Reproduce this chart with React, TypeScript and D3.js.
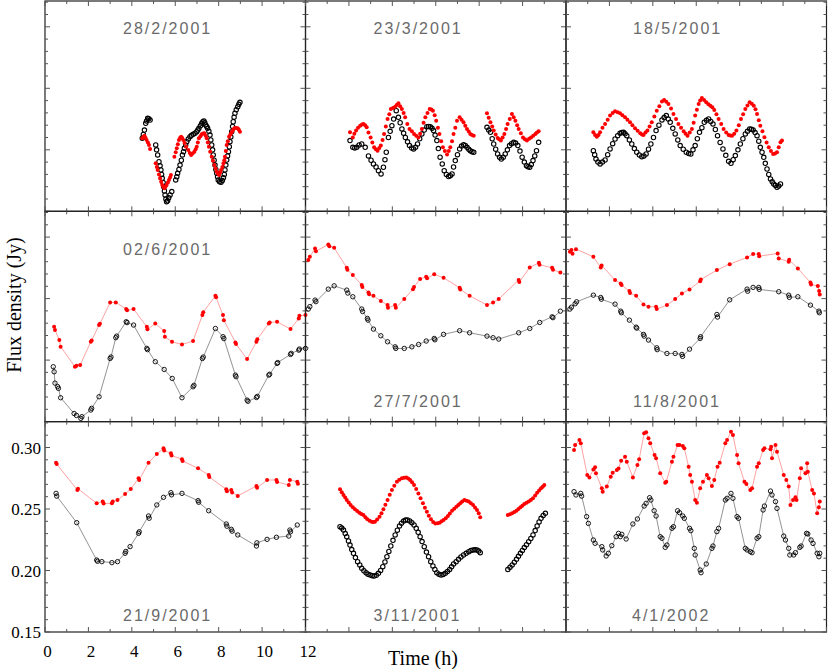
import React from 'react';
import * as d3 from 'd3';

type P = [number, number];

// ---- 28/2/2001 ----
const feb28Black: P[] = [[4.48,0.2093],[4.53,0.2125],[4.58,0.216],[4.64,0.2215],[4.68,0.2235],[4.73,0.2256],[4.78,0.2252],[4.84,0.2242],
  [5.1,0.204],[5.14,0.2],[5.19,0.1958],[5.25,0.1903],[5.3,0.187],[5.34,0.1836],[5.37,0.18],[5.4,0.1768],[5.44,0.1735],[5.47,0.17],[5.5,0.1665],[5.53,0.1633],[5.57,0.16],[5.6,0.1578],[5.65,0.1585],[5.7,0.161],[5.76,0.1633],[5.84,0.166],
  [6.02,0.1755],[6.07,0.178],[6.11,0.1809],[6.17,0.184],[6.22,0.1876],[6.28,0.1915],[6.33,0.1958],[6.38,0.1985],[6.42,0.2012],[6.48,0.204],[6.53,0.2066],[6.6,0.2088],[6.68,0.2107],[6.75,0.2118],[6.83,0.2126],[6.91,0.2135],[6.99,0.2147],[7.04,0.216],[7.09,0.2175],[7.16,0.2195],[7.22,0.2215],[7.27,0.2228],[7.32,0.2234],[7.36,0.222],[7.4,0.2202],[7.45,0.219],[7.49,0.2175],[7.55,0.215],[7.6,0.212],[7.64,0.208],[7.68,0.2039],[7.72,0.2],[7.75,0.1958],[7.79,0.1915],[7.83,0.1876],[7.87,0.184],[7.91,0.1809],[7.95,0.178],[7.98,0.1754],[8.04,0.174],[8.11,0.1736],[8.17,0.175],[8.22,0.1773],[8.26,0.18],[8.29,0.1836],[8.33,0.1876],[8.37,0.1917],[8.41,0.195],[8.45,0.1985],[8.49,0.2025],[8.52,0.2066],[8.56,0.2105],[8.6,0.2147],[8.64,0.219],[8.67,0.2228],[8.71,0.2265],[8.75,0.2297],[8.81,0.2325],[8.88,0.235],[8.93,0.237],[8.98,0.2386]];
const feb28Red: P[] = [[4.48,0.2093],[4.53,0.2105],[4.58,0.2115],[4.63,0.2098],[4.68,0.208],[4.74,0.206],[4.79,0.2039],[4.84,0.2007],
  [5.1,0.189],[5.15,0.186],[5.19,0.1836],[5.25,0.18],[5.3,0.1768],[5.35,0.174],[5.4,0.1714],[5.45,0.17],[5.5,0.1687],[5.55,0.17],[5.6,0.1714],[5.66,0.1735],[5.71,0.1754],[5.76,0.1775],[5.8,0.1795],
  [5.96,0.1944],[6.02,0.198],[6.07,0.2012],[6.12,0.2045],[6.17,0.208],[6.22,0.2095],[6.27,0.2107],[6.32,0.2095],[6.37,0.208],[6.43,0.2055],[6.5,0.2025],[6.6,0.1998],[6.67,0.1975],[6.73,0.1958],[6.8,0.197],[6.88,0.1985],[6.94,0.2005],[6.99,0.2025],[7.04,0.206],[7.09,0.2093],[7.16,0.211],[7.22,0.2126],[7.28,0.2132],[7.34,0.2134],[7.4,0.2115],[7.45,0.2093],[7.5,0.206],[7.55,0.2025],[7.61,0.1985],[7.68,0.1944],[7.74,0.191],[7.8,0.1876],[7.86,0.1848],[7.91,0.1822],[7.97,0.1805],[8.02,0.1795],[8.07,0.1815],[8.11,0.1836],[8.17,0.186],[8.22,0.189],[8.26,0.1915],[8.29,0.1944],[8.33,0.199],[8.37,0.2039],[8.42,0.207],[8.48,0.2107],[8.54,0.2125],[8.6,0.2142],[8.66,0.216],[8.72,0.2175],[8.8,0.2178],[8.88,0.2175],[8.93,0.2162],[8.98,0.2147]];

// ---- 23/3/2001 ----
const mar23Black: P[] = [[2.05,0.2075],[2.18,0.202],[2.27,0.2015],[2.36,0.202],[2.47,0.204],[2.59,0.2047],[2.75,0.202],[2.9,0.195],[3.02,0.1915],[3.13,0.1885],[3.25,0.186],[3.36,0.183],[3.48,0.1804],[3.59,0.1858],[3.66,0.192],[3.72,0.198],[3.82,0.21],[3.9,0.215],[3.98,0.2196],[4.06,0.225],[4.18,0.2318],[4.28,0.2264],[4.36,0.222],[4.44,0.217],[4.52,0.2135],[4.6,0.21],[4.7,0.2065],[4.79,0.2034],[4.89,0.2015],[4.98,0.2007],[5.07,0.202],[5.16,0.2047],[5.26,0.209],[5.36,0.2129],[5.47,0.216],[5.59,0.2188],[5.67,0.219],[5.75,0.2188],[5.83,0.2175],[5.9,0.2156],[5.97,0.212],[6.05,0.2075],[6.12,0.201],[6.2,0.194],[6.3,0.1885],[6.39,0.183],[6.49,0.18],[6.59,0.1782],[6.67,0.179],[6.75,0.1804],[6.82,0.186],[6.9,0.1912],[7.0,0.196],[7.1,0.2007],[7.19,0.203],[7.28,0.2042],[7.36,0.2035],[7.44,0.202],[7.52,0.2005],[7.59,0.1993],[7.67,0.1985],[7.75,0.198],
  [8.36,0.2183],[8.44,0.216],[8.52,0.2142],[8.6,0.209],[8.67,0.2047],[8.76,0.2005],[8.85,0.1966],[8.94,0.194],[9.02,0.1925],[9.11,0.194],[9.2,0.1966],[9.3,0.2],[9.4,0.2034],[9.49,0.205],[9.59,0.2061],[9.68,0.2055],[9.78,0.2034],[9.88,0.199],[9.98,0.194],[10.08,0.19],[10.18,0.1871],[10.25,0.1862],[10.33,0.1858],[10.4,0.188],[10.48,0.1912],[10.56,0.195],[10.64,0.1993],[10.74,0.2061]];
const mar23Red: P[] = [[2.05,0.2142],[2.18,0.21],[2.25,0.213],[2.33,0.2156],[2.42,0.218],[2.52,0.2196],[2.6,0.2205],[2.67,0.221],[2.75,0.22],[2.82,0.2183],[2.9,0.214],[3.0,0.21],[3.08,0.206],[3.16,0.202],[3.24,0.2005],[3.32,0.1993],[3.4,0.2015],[3.47,0.2034],[3.55,0.208],[3.62,0.2129],[3.7,0.219],[3.78,0.225],[3.86,0.229],[3.93,0.2332],[4.03,0.234],[4.13,0.2351],[4.2,0.2365],[4.28,0.2378],[4.36,0.2355],[4.44,0.2332],[4.52,0.23],[4.59,0.2264],[4.69,0.221],[4.79,0.2169],[4.9,0.215],[5.0,0.2129],[5.1,0.2115],[5.2,0.21],[5.28,0.213],[5.36,0.2169],[5.44,0.222],[5.52,0.2264],[5.62,0.23],[5.72,0.2332],[5.8,0.2328],[5.87,0.2318],[5.95,0.228],[6.02,0.2237],[6.1,0.218],[6.17,0.2129],[6.25,0.207],[6.33,0.202],[6.42,0.199],[6.52,0.1961],[6.6,0.199],[6.67,0.202],[6.75,0.207],[6.82,0.2129],[6.9,0.218],[6.98,0.2237],[7.1,0.2264],[7.19,0.2245],[7.28,0.2224],[7.36,0.2195],[7.44,0.2169],[7.52,0.2148],[7.59,0.2129],[7.67,0.212],[7.75,0.2115],
  [8.36,0.2297],[8.44,0.226],[8.52,0.2224],[8.6,0.219],[8.67,0.2156],[8.76,0.2125],[8.85,0.2096],[8.92,0.2085],[9.0,0.2075],[9.08,0.21],[9.16,0.2129],[9.24,0.217],[9.31,0.221],[9.41,0.225],[9.51,0.2291],[9.59,0.2265],[9.67,0.2237],[9.75,0.22],[9.82,0.2169],[9.92,0.2135],[10.02,0.21],[10.11,0.2085],[10.2,0.2075],[10.3,0.209],[10.39,0.21],[10.49,0.2115],[10.59,0.2129],[10.66,0.214],[10.74,0.215]];

// ---- 18/5/2001 ----
const may18Black: P[] = [[1.26,0.1993],[1.32,0.196],[1.38,0.1925],[1.47,0.19],[1.57,0.1885],[1.68,0.19],[1.8,0.1917],[1.92,0.196],[2.03,0.2007],[2.15,0.205],[2.26,0.2088],[2.38,0.2115],[2.49,0.2134],[2.57,0.214],[2.65,0.2142],[2.72,0.213],[2.8,0.2115],[2.92,0.208],[3.03,0.2047],[3.15,0.201],[3.26,0.198],[3.38,0.1958],[3.49,0.1944],[3.59,0.195],[3.69,0.1966],[3.8,0.2005],[3.91,0.2047],[4.03,0.21],[4.15,0.2156],[4.28,0.22],[4.42,0.2243],[4.52,0.2262],[4.62,0.2278],[4.71,0.225],[4.8,0.2224],[4.92,0.2175],[5.03,0.2129],[5.15,0.208],[5.26,0.2034],[5.4,0.2005],[5.54,0.198],[5.65,0.197],[5.75,0.1966],[5.85,0.2],[5.95,0.2034],[6.05,0.209],[6.15,0.2142],[6.26,0.218],[6.37,0.2224],[6.47,0.224],[6.57,0.2251],[6.67,0.223],[6.77,0.221],[6.88,0.2165],[6.98,0.2115],[7.1,0.206],[7.23,0.2007],[7.36,0.1955],[7.49,0.1906],[7.6,0.189],[7.7,0.192],[7.8,0.1953],[7.92,0.2],[8.03,0.2047],[8.15,0.209],[8.26,0.2129],[8.36,0.215],[8.46,0.2169],[8.54,0.2168],[8.62,0.2161],[8.71,0.214],[8.8,0.2115],[8.88,0.207],[8.95,0.202],[9.03,0.198],[9.11,0.1939],[9.18,0.189],[9.26,0.1844],[9.34,0.18],[9.42,0.1763],[9.5,0.174],[9.57,0.1722],[9.65,0.171],[9.72,0.1695],[9.8,0.1705],[9.88,0.1722]];
const may18Red: P[] = [[1.26,0.2142],[1.34,0.212],[1.42,0.2107],[1.5,0.212],[1.57,0.2142],[1.68,0.218],[1.8,0.221],[1.92,0.2245],[2.03,0.2278],[2.15,0.23],[2.26,0.2313],[2.38,0.2305],[2.49,0.2297],[2.6,0.228],[2.72,0.2264],[2.83,0.2245],[2.95,0.2224],[3.06,0.22],[3.18,0.2175],[3.3,0.2155],[3.42,0.2134],[3.5,0.2125],[3.57,0.2121],[3.66,0.214],[3.75,0.2156],[3.85,0.219],[3.95,0.2224],[4.07,0.227],[4.18,0.2318],[4.3,0.2355],[4.42,0.2392],[4.52,0.2405],[4.62,0.239],[4.72,0.2373],[4.84,0.2335],[4.95,0.2291],[5.07,0.225],[5.18,0.221],[5.3,0.218],[5.42,0.215],[5.51,0.213],[5.6,0.2115],[5.7,0.214],[5.8,0.2169],[5.88,0.222],[5.95,0.2278],[6.03,0.2325],[6.11,0.2373],[6.18,0.24],[6.26,0.2421],[6.36,0.2405],[6.46,0.2386],[6.56,0.237],[6.65,0.2359],[6.74,0.2345],[6.83,0.2324],[6.93,0.229],[7.03,0.2251],[7.15,0.221],[7.26,0.2169],[7.38,0.214],[7.49,0.2121],[7.57,0.2117],[7.65,0.2115],[7.75,0.213],[7.85,0.2156],[7.96,0.22],[8.06,0.2251],[8.16,0.229],[8.26,0.2332],[8.36,0.236],[8.46,0.2386],[8.56,0.2375],[8.65,0.2359],[8.73,0.233],[8.8,0.2291],[8.88,0.224],[8.95,0.2196],[9.05,0.215],[9.14,0.2102],[9.24,0.206],[9.34,0.202],[9.44,0.199],[9.54,0.1966],[9.63,0.197],[9.72,0.198],[9.8,0.202],[9.88,0.2061],[9.95,0.2075]];

// ---- 02/6/2001 ----
const jun02Black: P[] = [[0.38,0.1946],[0.42,0.1905],[0.46,0.1813],[0.58,0.1785],[0.62,0.177],[0.72,0.1694],[1.34,0.1566],[1.45,0.155],[1.65,0.1526],[1.7,0.154],[2.11,0.1594],[2.15,0.1608],[2.49,0.1702],[3.0,0.2013],[3.04,0.2025],[3.26,0.2182],[3.3,0.2195],[3.74,0.2312],[3.78,0.2305],[4.08,0.2285],[4.69,0.2095],[4.72,0.2085],[5.08,0.1987],[5.49,0.1924],[5.86,0.1851],[6.31,0.1694],[6.82,0.1783],[6.86,0.1795],[7.25,0.2013],[7.29,0.2025],[7.85,0.2257],[8.2,0.219],[8.24,0.2175],[8.77,0.1878],[8.8,0.1865],[9.31,0.1675],[9.35,0.1665],[9.74,0.1696],[9.78,0.1705],[10.31,0.1878],[10.35,0.1885],[10.69,0.1973],[10.72,0.198],[11.31,0.2046],[11.34,0.2055],[11.69,0.2081],[11.72,0.209],[12.0,0.2095]];
const jun02Red: P[] = [[0.42,0.2271],[0.46,0.2245],[0.66,0.2163],[0.72,0.2109],[1.38,0.1946],[1.45,0.1955],[1.62,0.196],[2.11,0.2149],[2.15,0.216],[2.49,0.2285],[2.53,0.2295],[3.0,0.2469],[3.26,0.2469],[3.74,0.2415],[3.78,0.2405],[4.08,0.2415],[4.69,0.2271],[4.72,0.225],[5.08,0.2298],[5.49,0.2236],[5.52,0.219],[5.85,0.2149],[6.31,0.2127],[6.82,0.2155],[7.25,0.2366],[7.29,0.239],[7.85,0.2523],[7.88,0.251],[8.2,0.2366],[8.24,0.2325],[8.77,0.2144],[8.8,0.213],[9.31,0.2008],[9.74,0.2149],[9.78,0.217],[10.31,0.2298],[10.35,0.2305],[10.69,0.2312],[11.31,0.2252],[11.69,0.2339],[11.72,0.236],[12.0,0.2366]];

// ---- 27/7/2001 ----
const jul27Black: P[] = [[0.13,0.2415],[0.2,0.2435],[0.44,0.2488],[0.48,0.2475],[1.05,0.2577],[1.32,0.2604],[1.9,0.2569],[1.95,0.2545],[2.18,0.2515],[2.59,0.2415],[2.63,0.2395],[2.85,0.2339],[2.88,0.2325],[3.13,0.2252],[3.47,0.2198],[3.78,0.2149],[4.13,0.2108],[4.16,0.2095],[4.55,0.2095],[4.9,0.2108],[5.21,0.2127],[5.56,0.2155],[5.93,0.2176],[5.96,0.2165],[6.36,0.2209],[7.1,0.2239],[7.56,0.2222],[8.36,0.2195],[8.64,0.2182],[8.9,0.2171],[9.82,0.2222],[10.33,0.2257],[10.79,0.2306],[11.36,0.2352],[11.4,0.2345],[11.74,0.2398]];
const jul27Red: P[] = [[0.13,0.2813],[0.2,0.284],[0.44,0.2908],[0.48,0.2885],[1.05,0.294],[1.1,0.2925],[1.32,0.2913],[1.9,0.2751],[1.93,0.2735],[2.18,0.2691],[2.59,0.261],[2.62,0.2595],[2.9,0.255],[2.93,0.2535],[3.13,0.2523],[3.47,0.248],[3.78,0.2447],[3.8,0.2425],[4.13,0.2447],[4.16,0.2425],[4.55,0.2496],[4.95,0.2577],[5.0,0.2595],[5.28,0.2659],[5.56,0.2678],[5.6,0.2665],[5.93,0.2697],[6.36,0.2669],[7.1,0.2588],[7.13,0.2575],[7.56,0.2523],[8.36,0.2447],[8.64,0.2469],[8.9,0.2496],[9.82,0.2651],[9.85,0.2635],[10.33,0.2753],[10.75,0.2791],[10.78,0.2775],[11.36,0.2751],[11.4,0.2735],[11.74,0.2713]];

// ---- 11/8/2001 ----
const aug11Black: P[] = [[0.18,0.2415],[0.25,0.243],[0.42,0.2458],[0.49,0.2474],[1.26,0.2528],[1.6,0.2509],[1.63,0.2495],[2.26,0.2455],[2.52,0.2398],[2.55,0.2385],[2.92,0.2325],[3.23,0.2268],[3.26,0.226],[3.57,0.2209],[3.6,0.2195],[3.8,0.2163],[4.18,0.21],[4.2,0.2085],[4.65,0.2054],[5.03,0.2054],[5.34,0.2046],[5.37,0.203],[5.69,0.2089],[6.18,0.2176],[6.2,0.219],[6.95,0.2371],[6.98,0.235],[7.54,0.249],[8.34,0.2577],[8.37,0.256],[8.62,0.2591],[8.88,0.2591],[8.9,0.2575],[9.8,0.2556],[10.26,0.2528],[10.29,0.251],[10.68,0.2515],[11.26,0.2447],[11.65,0.2398],[11.67,0.2385]];
const aug11Red: P[] = [[0.18,0.2881],[0.25,0.2895],[0.3,0.2865],[0.46,0.2902],[1.26,0.284],[1.6,0.2753],[1.64,0.277],[2.26,0.2651],[2.52,0.2623],[2.56,0.261],[2.92,0.2561],[2.95,0.2545],[3.23,0.2523],[3.57,0.2453],[3.8,0.2434],[4.15,0.2434],[4.18,0.2415],[4.65,0.2447],[5.03,0.2496],[5.34,0.2542],[5.69,0.2575],[6.18,0.2642],[6.21,0.2655],[6.95,0.2732],[7.54,0.278],[8.34,0.2835],[8.62,0.2862],[8.88,0.2862],[8.9,0.2845],[9.75,0.2867],[9.8,0.2827],[10.26,0.28],[10.28,0.2815],[10.68,0.2745],[11.26,0.2631],[11.29,0.2615],[11.6,0.2602],[11.66,0.2561],[11.69,0.2534]];

// ---- 21/9/2001 ----
const sep21Black: P[] = [[0.51,0.2627],[0.54,0.2605],[1.46,0.2389],[2.38,0.2085],[2.42,0.2075],[2.62,0.2072],[3.08,0.2064],[3.34,0.2072],[3.69,0.214],[3.72,0.2155],[3.92,0.2194],[4.31,0.2302],[4.34,0.2315],[4.77,0.2443],[4.8,0.2425],[5.15,0.2533],[5.46,0.2595],[5.8,0.2633],[5.83,0.2615],[6.31,0.2627],[7.05,0.2568],[7.08,0.2555],[7.54,0.2486],[8.35,0.2378],[8.38,0.236],[8.58,0.2335],[8.62,0.232],[8.88,0.2289],[9.74,0.2199],[9.76,0.2225],[10.23,0.2253],[10.66,0.227],[11.23,0.228],[11.28,0.2329],[11.31,0.2315],[11.62,0.237]];
const sep21Red: P[] = [[0.51,0.2877],[0.54,0.2865],[1.49,0.2654],[1.52,0.2665],[2.38,0.2546],[2.66,0.256],[2.7,0.2545],[3.08,0.2546],[3.12,0.256],[3.34,0.2573],[3.69,0.2622],[3.95,0.2663],[4.31,0.2749],[4.34,0.2735],[4.77,0.2877],[5.15,0.2947],[5.46,0.2993],[5.49,0.2975],[5.8,0.2953],[5.83,0.2935],[6.31,0.2904],[6.34,0.289],[7.05,0.2831],[7.54,0.2776],[7.57,0.276],[8.35,0.266],[8.38,0.2645],[8.58,0.2654],[8.62,0.2635],[8.88,0.2606],[9.74,0.2687],[9.77,0.2672],[10.23,0.2736],[10.66,0.2736],[10.69,0.272],[11.23,0.2695],[11.28,0.2736],[11.62,0.2722],[11.65,0.2705]];

// ---- 3/11/2001 ----
const nov03Black: P[] = [[1.59,0.2356],[1.67,0.2345],[1.75,0.2329],[1.83,0.23],[1.9,0.2275],[1.98,0.224],[2.05,0.2207],[2.13,0.217],[2.21,0.214],[2.3,0.2105],[2.4,0.2072],[2.5,0.2045],[2.59,0.2018],[2.69,0.1998],[2.79,0.1982],[2.88,0.197],[2.98,0.1963],[3.07,0.1958],[3.16,0.1955],[3.26,0.1962],[3.36,0.1977],[3.46,0.2],[3.56,0.2031],[3.66,0.207],[3.75,0.2112],[3.84,0.2155],[3.93,0.2199],[4.03,0.2245],[4.13,0.2289],[4.23,0.2328],[4.33,0.2362],[4.42,0.2385],[4.52,0.2402],[4.61,0.241],[4.7,0.2411],[4.8,0.2403],[4.9,0.2389],[5.0,0.237],[5.1,0.2343],[5.19,0.231],[5.28,0.2275],[5.37,0.2235],[5.47,0.2194],[5.57,0.215],[5.67,0.2112],[5.77,0.2072],[5.87,0.2037],[5.96,0.2008],[6.05,0.1982],[6.15,0.197],[6.24,0.1963],[6.34,0.1968],[6.44,0.1977],[6.54,0.1992],[6.64,0.2009],[6.73,0.203],[6.82,0.2053],[6.94,0.2072],[7.05,0.2091],[7.16,0.211],[7.28,0.2126],[7.4,0.214],[7.52,0.2153],[7.62,0.2162],[7.72,0.2167],[7.81,0.2168],[7.9,0.2167],[7.98,0.2158],[8.05,0.2145],
  [9.32,0.2009],[9.42,0.2027],[9.52,0.2045],[9.62,0.2068],[9.72,0.2091],[9.81,0.2115],[9.9,0.214],[9.99,0.2163],[10.08,0.2186],[10.18,0.221],[10.28,0.2234],[10.38,0.226],[10.48,0.2289],[10.58,0.2325],[10.67,0.2362],[10.76,0.2395],[10.85,0.2424],[10.95,0.2447],[11.05,0.2465]];
const nov03Red: P[] = [[1.59,0.266],[1.67,0.2637],[1.75,0.2614],[1.83,0.2593],[1.9,0.2573],[1.99,0.2553],[2.08,0.2533],[2.18,0.2515],[2.28,0.2497],[2.38,0.2483],[2.48,0.247],[2.57,0.246],[2.67,0.2451],[2.76,0.2433],[2.85,0.2416],[2.95,0.2405],[3.05,0.2397],[3.12,0.2395],[3.2,0.2397],[3.3,0.2415],[3.41,0.2438],[3.5,0.2465],[3.59,0.2497],[3.68,0.2535],[3.78,0.2573],[3.88,0.2615],[3.98,0.2654],[4.09,0.269],[4.21,0.2722],[4.32,0.2738],[4.44,0.2749],[4.54,0.2755],[4.64,0.2757],[4.73,0.2748],[4.82,0.2736],[4.91,0.2718],[5.0,0.2695],[5.1,0.2662],[5.2,0.2627],[5.3,0.2587],[5.41,0.2546],[5.5,0.251],[5.59,0.2478],[5.68,0.2445],[5.78,0.2416],[5.88,0.2395],[5.98,0.2383],[6.08,0.2385],[6.18,0.2389],[6.27,0.24],[6.36,0.2411],[6.46,0.2425],[6.56,0.2443],[6.65,0.2463],[6.75,0.2486],[6.85,0.2503],[6.95,0.2519],[7.04,0.2532],[7.13,0.2546],[7.22,0.256],[7.32,0.2573],[7.42,0.2567],[7.52,0.256],[7.62,0.2547],[7.72,0.2533],[7.81,0.2512],[7.9,0.2492],[7.98,0.2465],[8.05,0.2432],
  [9.32,0.2451],[9.42,0.2458],[9.52,0.2465],[9.62,0.2475],[9.72,0.2486],[9.81,0.25],[9.9,0.2514],[9.99,0.2527],[10.08,0.2541],[10.18,0.255],[10.28,0.256],[10.38,0.2573],[10.48,0.2587],[10.58,0.261],[10.67,0.2633],[10.76,0.265],[10.85,0.2668],[10.93,0.268],[11.0,0.2695]];

// ---- 4/1/2002 ----
const jan04Black: P[] = [[0.37,0.2641],[0.46,0.2614],[0.68,0.2627],[0.72,0.2605],[0.95,0.2438],[1.03,0.2383],[1.26,0.2248],[1.34,0.2221],[1.65,0.2194],[1.69,0.2167],[1.85,0.2118],[1.95,0.214],[2.11,0.2202],[2.31,0.2275],[2.42,0.2302],[2.5,0.2275],[2.57,0.2294],[2.77,0.2256],[3.08,0.2378],[3.29,0.2419],[3.6,0.2524],[3.69,0.2546],[3.85,0.2592],[3.91,0.2573],[4.06,0.2486],[4.15,0.2443],[4.34,0.2275],[4.42,0.2262],[4.57,0.2188],[4.65,0.2207],[4.88,0.2343],[4.95,0.2356],[5.14,0.2486],[5.23,0.247],[5.38,0.2443],[5.45,0.2424],[5.69,0.2343],[5.75,0.2324],[5.91,0.218],[5.95,0.2126],[6.18,0.2004],[6.22,0.1982],[6.46,0.2053],[6.72,0.218],[6.77,0.2199],[6.95,0.2316],[7.03,0.2343],[7.34,0.2573],[7.42,0.2587],[7.6,0.2627],[7.69,0.2587],[7.88,0.2438],[7.95,0.2424],[8.26,0.218],[8.34,0.2167],[8.49,0.2153],[8.57,0.2145],[8.8,0.2262],[8.88,0.2275],[9.08,0.2492],[9.14,0.2524],[9.42,0.2646],[9.49,0.2614],[9.65,0.256],[9.72,0.2505],[10.03,0.228],[10.11,0.2248],[10.26,0.218],[10.31,0.2126],[10.49,0.2126],[10.57,0.2145],[10.77,0.2188],[10.83,0.2199],[11.08,0.2302],[11.14,0.2297],[11.29,0.2248],[11.38,0.222],[11.57,0.214],[11.65,0.2112],[11.69,0.214]];
const jan04Red: P[] = [[0.37,0.298],[0.42,0.302],[0.62,0.3061],[0.68,0.3034],[0.98,0.2776],[1.08,0.2757],[1.26,0.2822],[1.34,0.2839],[1.38,0.279],[1.65,0.2668],[1.69,0.2641],[1.88,0.2682],[2.06,0.2763],[2.15,0.2795],[2.34,0.2817],[2.42,0.283],[2.54,0.2893],[2.72,0.2925],[2.8,0.2885],[3.08,0.2757],[3.29,0.2858],[3.37,0.2904],[3.6,0.3115],[3.69,0.3123],[3.8,0.3075],[3.88,0.3034],[4.08,0.2939],[4.15,0.2912],[4.34,0.279],[4.57,0.2714],[4.62,0.2722],[4.88,0.2885],[4.95,0.2925],[5.14,0.302],[5.23,0.302],[5.38,0.3012],[5.45,0.2993],[5.65,0.2844],[5.72,0.2776],[5.8,0.2722],[5.95,0.2573],[6.03,0.2551],[6.18,0.2668],[6.31,0.2722],[6.49,0.2776],[6.57,0.2749],[6.72,0.2687],[6.83,0.2736],[6.98,0.2844],[7.08,0.2877],[7.34,0.3034],[7.42,0.3061],[7.6,0.3129],[7.69,0.3102],[7.88,0.2939],[7.95,0.2871],[8.22,0.2722],[8.31,0.2703],[8.49,0.2654],[8.57,0.2668],[8.8,0.2844],[8.88,0.2871],[9.08,0.298],[9.14,0.2993],[9.42,0.2985],[9.45,0.3007],[9.49,0.2912],[9.65,0.302],[9.72,0.2966],[10.03,0.2776],[10.15,0.2736],[10.26,0.2682],[10.34,0.2533],[10.46,0.2573],[10.57,0.2595],[10.62,0.2573],[10.77,0.2749],[10.83,0.2831],[11.03,0.279],[11.11,0.2871],[11.14,0.2803],[11.34,0.2654],[11.42,0.2627],[11.57,0.2465],[11.65,0.2514],[11.69,0.256]];

const PANELS = [
  { date: '28/2/2001', black: feb28Black, red: feb28Red, joined: false },
  { date: '23/3/2001', black: mar23Black, red: mar23Red, joined: false },
  { date: '18/5/2001', black: may18Black, red: may18Red, joined: false },
  { date: '02/6/2001', black: jun02Black, red: jun02Red, joined: true },
  { date: '27/7/2001', black: jul27Black, red: jul27Red, joined: true },
  { date: '11/8/2001', black: aug11Black, red: aug11Red, joined: true },
  { date: '21/9/2001', black: sep21Black, red: sep21Red, joined: true },
  { date: '3/11/2001', black: nov03Black, red: nov03Red, joined: false },
  { date: '4/1/2002', black: jan04Black, red: jan04Red, joined: true },
];

const X_TICK_LABELS = ['0', '2', '4', '6', '8', '10', '12'];
const Y_TICK_LABELS = ['0.15', '0.20', '0.25', '0.30'];
const X_LABEL = 'Time (h)';
const Y_LABEL = 'Flux density (Jy)';

// layout
const W = 830, H = 669;
const COL_X = [45, 305.5, 566];
const PW = 260.5;
const ROW_Y = [1, 211.3, 421.7];
const PH = 210.3;
const DATE_POS: [number, number][] = [
  [123, 34], [373.5, 34], [633, 34],
  [123, 255], [373.5, 406.7], [633, 406.7],
  [123, 620.7], [373.5, 620.7], [632, 620.7],
];
const SERIF = "'Liberation Serif', 'Times New Roman', Times, serif";

export default function App() {
  const yMax = 0.15 + PH / 1230;
  const minorX = d3.range(0, 13, 1);
  const minorY = d3.range(15, 33, 1).map((v) => v / 100);
  return (
    <svg width={W} height={H} style={{ position: 'absolute', left: 0, top: 0, background: '#fff' }}>
      <rect x={0} y={0} width={W} height={H} fill="#fff" />
      {PANELS.map((p, i) => {
        const col = i % 3, row = Math.floor(i / 3);
        const x = d3.scaleLinear().domain([0, 12]).range([COL_X[col], COL_X[col] + PW]);
        const y = d3.scaleLinear().domain([0.15, yMax]).range([ROW_Y[row] + PH, ROW_Y[row]]);
        const x0 = COL_X[col], x1 = COL_X[col] + PW, y0 = ROW_Y[row], y1 = ROW_Y[row] + PH;
        const line = d3.line<P>().x((d) => x(d[0])).y((d) => y(d[1]));
        const bw = p.joined ? 0.9 : 1.1;
        return (
          <g key={i}>
            <rect x={x0} y={y0} width={PW} height={PH} fill="none" stroke="#222" strokeWidth={1.2} />
            {minorX.map((t) => {
              const L = t % 2 === 0 ? 5 : 3;
              return (
                <g key={'x' + t} stroke="#555" strokeWidth={1}>
                  <line x1={x(t)} x2={x(t)} y1={y1} y2={y1 - L} />
                  <line x1={x(t)} x2={x(t)} y1={y0} y2={y0 + L} />
                </g>
              );
            })}
            {minorY.map((v, k) => {
              const L = Math.round(v * 100) % 5 === 0 ? 5 : 3;
              return (
                <g key={'y' + k} stroke="#555" strokeWidth={1}>
                  <line x1={x0} x2={x0 + L} y1={y(v)} y2={y(v)} />
                  <line x1={x1} x2={x1 - L} y1={y(v)} y2={y(v)} />
                </g>
              );
            })}
            {p.joined && (
              <>
                <path d={line(p.black) || ''} fill="none" stroke="#777" strokeWidth={0.8} />
                <path d={line(p.red) || ''} fill="none" stroke="#ff8a8a" strokeWidth={0.8} />
              </>
            )}
            {p.black.map((d, k) => (
              <circle key={'b' + k} cx={x(d[0])} cy={y(d[1])} r={2.2} fill="none" stroke="#000" strokeWidth={bw} />
            ))}
            {p.red.map((d, k) => (
              <circle key={'r' + k} cx={x(d[0])} cy={y(d[1])} r={2} fill="#ff0000" />
            ))}
            <text x={DATE_POS[i][0]} y={DATE_POS[i][1]} fontFamily="'Liberation Sans', Arial, sans-serif" fontSize={16} letterSpacing={2} fill="#6a6a6a">
              {p.date}
            </text>
            {i === 6 && (
              <g fontFamily={SERIF} fontSize={17} fill="#000">
                {X_TICK_LABELS.map((s) => (
                  <text key={s} x={x(+s) + 2.5} y={657} textAnchor="middle">{s}</text>
                ))}
                {Y_TICK_LABELS.map((s) => (
                  <text key={s} x={41} y={y(+s) + 6} textAnchor="end">{s}</text>
                ))}
              </g>
            )}
          </g>
        );
      })}
      <text x={423} y={665} textAnchor="middle" fontFamily={SERIF} fontSize={20}>{X_LABEL}</text>
      <text transform="translate(21,305) rotate(-90)" textAnchor="middle" fontFamily={SERIF} fontSize={20}>{Y_LABEL}</text>
    </svg>
  );
}
